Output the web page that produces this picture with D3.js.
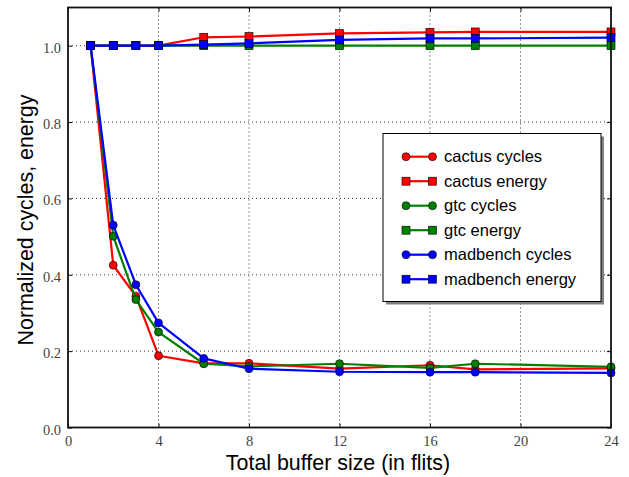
<!DOCTYPE html>
<html><head><meta charset="utf-8">
<script src="https://cdn.jsdelivr.net/npm/d3@7"></script>
<style>body{margin:0;background:#fff;} svg{display:block;}</style>
</head><body>
<svg id="chart" width="629" height="477"></svg>
<script>
const xValues = [1, 2, 3, 4, 6, 8, 12, 16, 18, 24];
const cactusCycles    = [1.0, 0.425, 0.344, 0.188, 0.168, 0.168, 0.154, 0.163, 0.152, 0.155];
const cactusEnergy    = [1.0, 1.0, 1.0, 1.0, 1.022, 1.024, 1.032, 1.035, 1.036, 1.036];
const gtcCycles       = [1.0, 0.501, 0.335, 0.250, 0.167, 0.160, 0.167, 0.156, 0.167, 0.159];
const gtcEnergy       = [1.0, 1.0, 1.0, 1.0, 1.0, 1.0, 1.0, 1.0, 1.0, 1.0];
const madbenchCycles  = [1.0, 0.530, 0.374, 0.274, 0.181, 0.154, 0.146, 0.145, 0.145, 0.143];
const madbenchEnergy  = [1.0, 1.0, 1.0, 1.0, 1.003, 1.006, 1.015, 1.019, 1.019, 1.021];
const seriesNames = ["cactus cycles","cactus energy","gtc cycles","gtc energy","madbench cycles","madbench energy"];
const seriesColors = ["#ff0000","#ff0000","#008000","#008000","#0000ff","#0000ff"];
const seriesMarkers = ["circle","square","circle","square","circle","square"];
const xTicks = [0, 4, 8, 12, 16, 20, 24];
const yTicks = [0.0, 0.2, 0.4, 0.6, 0.8, 1.0];
const xLabel = "Total buffer size (in flits)";
const yLabel = "Normalized cycles, energy";

const allSeries = [cactusCycles, cactusEnergy, gtcCycles, gtcEnergy, madbenchCycles, madbenchEnergy];

const svg = d3.select("#chart");
const L = 68, R = 611, T = 7.5, B = 427.5;
const x = d3.scaleLinear().domain([0, 24]).range([L, R]);
const y = d3.scaleLinear().domain([0, 1.1]).range([B, T]);

// grid
const grid = svg.append("g");
grid.selectAll(".gx").data(xTicks.slice(1, -1)).enter().append("line")
  .attr("x1", d => x(d)).attr("x2", d => x(d)).attr("y1", T).attr("y2", B)
  .attr("stroke", "#000").attr("stroke-width", 0.8).attr("stroke-dasharray", "1,3");
grid.selectAll(".gy").data(yTicks.slice(1)).enter().append("line")
  .attr("x1", L).attr("x2", R).attr("y1", d => y(d)).attr("y2", d => y(d))
  .attr("stroke", "#000").attr("stroke-width", 0.8).attr("stroke-dasharray", "1,3");

// axes
const xAxisB = d3.axisBottom(x).tickValues(xTicks).tickFormat(d3.format("d")).tickSizeInner(-4).tickSizeOuter(0).tickPadding(8);
const xAxisT = d3.axisTop(x).tickValues(xTicks).tickFormat("").tickSizeInner(-4).tickSizeOuter(0);
const yAxisL = d3.axisLeft(y).tickValues(yTicks).tickFormat(d3.format(".1f")).tickSizeInner(-4).tickSizeOuter(0).tickPadding(7);
const yAxisR = d3.axisRight(y).tickValues(yTicks).tickFormat("").tickSizeInner(-4).tickSizeOuter(0);
function styleAxis(g){
  g.select(".domain").remove();
  g.attr("font-family", "'Liberation Serif', 'DejaVu Serif', serif").attr("font-size", 14.5);
  g.selectAll(".tick line").attr("stroke", "#000").attr("stroke-width", 1);
  g.selectAll(".tick text").attr("fill", "#444");
}
svg.append("g").attr("transform", `translate(0,${B})`).call(xAxisB).call(styleAxis);
svg.append("g").attr("transform", `translate(0,${T})`).call(xAxisT).call(styleAxis);
svg.append("g").attr("transform", `translate(${L},0)`).call(yAxisL).call(styleAxis)
  .selectAll(".tick text").attr("dy", "0.45em");
svg.append("g").attr("transform", `translate(${R},0)`).call(yAxisR).call(styleAxis);

// series
const line = d3.line().x((d, i) => x(xValues[i])).y(d => y(d));
allSeries.forEach((vals, si) => {
  const g = svg.append("g");
  g.append("path").datum(vals).attr("d", line).attr("fill", "none")
    .attr("stroke", seriesColors[si]).attr("stroke-width", 2.2).attr("stroke-linejoin", "round");
  if (seriesMarkers[si] === "circle") {
    g.selectAll("circle").data(vals).enter().append("circle")
      .attr("cx", (d, i) => x(xValues[i])).attr("cy", d => y(d)).attr("r", 4)
      .attr("fill", seriesColors[si]).attr("stroke", "#000").attr("stroke-width", 0.6);
  } else {
    g.selectAll("rect").data(vals).enter().append("rect")
      .attr("x", (d, i) => x(xValues[i]) - 4).attr("y", d => y(d) - 4).attr("width", 8).attr("height", 8)
      .attr("fill", seriesColors[si]).attr("stroke", "#000").attr("stroke-width", 0.6);
  }
});

// frame
svg.append("rect").attr("x", L).attr("y", T).attr("width", R - L).attr("height", B - T)
  .attr("fill", "none").attr("stroke", "#111").attr("stroke-width", 1.8);

// axis labels
svg.append("text").attr("x", 338).attr("y", 469.5).attr("text-anchor", "middle")
  .attr("font-family", "'Liberation Sans', Arial, sans-serif").attr("font-size", 21.4).text(xLabel);
svg.append("text").attr("transform", "translate(33,220) rotate(-90)").attr("text-anchor", "middle")
  .attr("font-family", "'Liberation Sans', Arial, sans-serif").attr("font-size", 21.4).text(yLabel);

// legend
const lg = svg.append("g");
const lx = 383, ly = 133.5, lw = 218, lh = 168;
lg.append("rect").attr("x", lx + 3).attr("y", ly + 3).attr("width", lw).attr("height", lh).attr("fill", "#808080");
lg.append("rect").attr("x", lx).attr("y", ly).attr("width", lw).attr("height", lh).attr("fill", "#fff").attr("stroke", "#000").attr("stroke-width", 1);
seriesNames.forEach((name, i) => {
  const yy = 156.7 + i * 24.5;
  const x1 = 406, x2 = 432.5;
  lg.append("line").attr("x1", x1).attr("x2", x2).attr("y1", yy).attr("y2", yy)
    .attr("stroke", seriesColors[i]).attr("stroke-width", 2.2);
  [x1, x2].forEach(px => {
    if (seriesMarkers[i] === "circle") {
      lg.append("circle").attr("cx", px).attr("cy", yy).attr("r", 4)
        .attr("fill", seriesColors[i]).attr("stroke", "#000").attr("stroke-width", 0.6);
    } else {
      lg.append("rect").attr("x", px - 4).attr("y", yy - 4).attr("width", 8).attr("height", 8)
        .attr("fill", seriesColors[i]).attr("stroke", "#000").attr("stroke-width", 0.6);
    }
  });
  lg.append("text").attr("x", 444).attr("y", yy).attr("dy", "0.35em")
    .attr("font-family", "'Liberation Sans', Arial, sans-serif").attr("font-size", 16.5).text(name);
});
</script>
</body></html>
